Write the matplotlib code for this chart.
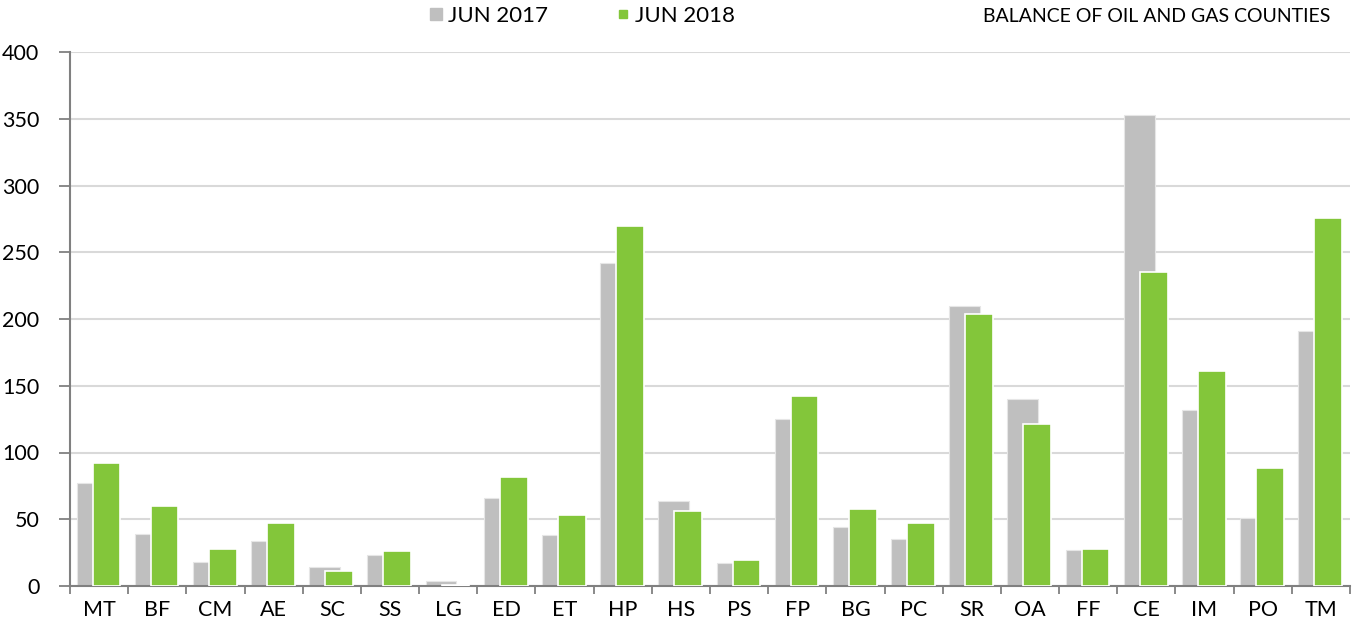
import matplotlib
matplotlib.use("Agg")
import matplotlib.pyplot as plt
from matplotlib.lines import Line2D
import numpy as np

categories = ["MT", "BF", "CM", "AE", "SC", "SS", "LG", "ED", "ET", "HP", "HS",
              "PS", "FP", "BG", "PC", "SR", "OA", "FF", "CE", "IM", "PO", "TM"]
jun_2017 = [77, 39, 18, 34, 14, 23, 4, 66, 38, 242, 64,
            17, 125, 44, 35, 210, 140, 27, 353, 132, 51, 191]
jun_2018 = [92, 60, 27.5, 47, 11, 26, 0.4, 82, 53, 270, 56,
            19.5, 142, 57.5, 47, 203.5, 121, 27.5, 235.5, 161, 88.5, 276]
series_labels = ["JUN 2017", "JUN 2018"]
title = "BALANCE OF OIL AND GAS COUNTIES"

GREY = "#bfbfbf"
GREEN = "#83c63a"
AXIS = "#808080"
GRID = "#d9d9d9"

plt.rcParams["font.family"] = ["Lato", "DejaVu Sans"]

W, H = 1354, 627
fig = plt.figure(figsize=(W / 100, H / 100), dpi=100)
ax = fig.add_axes([70 / W, 1 - 586 / H, (1350 - 70) / W, (586 - 52) / H])

x = np.arange(len(categories))
ax.bar(x - 0.123, jun_2017, width=0.53, color=GREY, edgecolor="#e6e6e6",
       linewidth=0.8, zorder=2)
ax.bar(x + 0.126, jun_2018, width=0.476, color=GREEN, edgecolor="white",
       linewidth=1.2, zorder=3)

ax.set_xlim(-0.5, len(categories) - 0.5)
ax.set_ylim(0, 400)
ax.set_yticks(np.arange(0, 401, 50))
ax.yaxis.grid(True, color=GRID, linewidth=1.5, zorder=0)
ax.set_axisbelow(True)

ax.set_xticks(x)
ax.set_xticklabels(categories, fontsize=15.5)
ax.set_xticks(np.arange(-0.5, len(categories), 1), minor=True)
ax.tick_params(axis="x", which="major", length=0, pad=10, labelcolor="black")
ax.tick_params(axis="x", which="minor", length=6, width=1.3, color=AXIS)
ax.tick_params(axis="y", length=8, width=1.3, color=AXIS, pad=14, labelsize=15.5)

for s in ["top", "right"]:
    ax.spines[s].set_visible(False)
for s in ["left", "bottom"]:
    ax.spines[s].set_color(AXIS)
    ax.spines[s].set_linewidth(1.5)

handles = [
    Line2D([], [], marker="s", linestyle="", color=GREY, markersize=9),
    Line2D([], [], marker="s", linestyle="", color=GREEN, markersize=6),
]
fig.legend(handles, series_labels, loc="center",
           bbox_to_anchor=((431 + 730) / 2 / W, 1 - 16 / H),
           ncol=2, frameon=False, fontsize=16, handletextpad=0.1,
           columnspacing=2.9, handlelength=0.9, borderaxespad=0, borderpad=0)

fig.text(1330 / W, 1 - 16 / H, title, ha="right", va="center", fontsize=14)

fig.savefig("out.png", dpi=100)
